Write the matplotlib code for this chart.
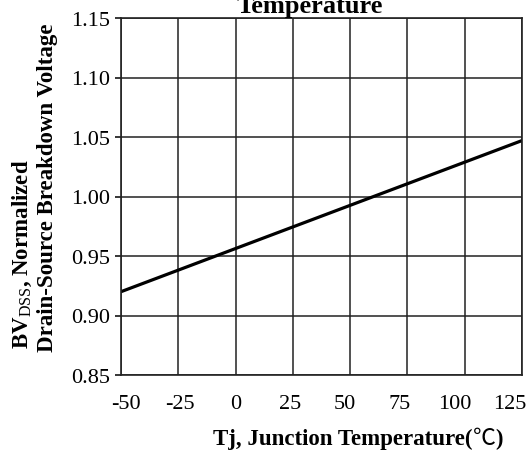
import matplotlib
matplotlib.use("Agg")
import matplotlib.pyplot as plt
import matplotlib.transforms as mtransforms
import numpy as np

# data
temps = [-50, 125]
bv_norm = [0.920, 1.047]

x_ticks = [-50, -25, 0, 25, 50, 75, 100, 125]
y_ticks = [0.85, 0.90, 0.95, 1.00, 1.05, 1.10, 1.15]

plt.rcParams['font.family'] = ['Liberation Serif', 'Noto Sans CJK SC']
plt.rcParams['mathtext.fontset'] = 'custom'
plt.rcParams['mathtext.rm'] = 'Liberation Serif'
plt.rcParams['mathtext.bf'] = 'Liberation Serif:bold'


def main():
    fig = plt.figure(figsize=(5.32, 4.52), dpi=100)
    ax = fig.add_axes([121 / 532, 1 - 376 / 452, 401 / 532, 357 / 452])

    ax.plot(temps, bv_norm, color='black', linewidth=2.3, solid_capstyle='round')

    ax.set_xlim(-50, 125)
    ax.set_ylim(0.85, 1.15)
    ax.set_xticks(x_ticks)
    ax.set_yticks(y_ticks)
    ax.set_xticklabels([str(t) for t in x_ticks])
    ax.set_yticklabels(['%.2f' % v for v in y_ticks])
    ax.grid(True, color='#222222', linewidth=1.1)
    for s in ax.spines.values():
        s.set_color('#222222')
        s.set_linewidth(1.2)

    ax.tick_params(axis='x', length=0, pad=14, labelsize=16)
    ax.tick_params(axis='y', length=4, width=1.1, pad=4, labelsize=16)

    # the datasheet spaces its x labels a bit tighter than the grid
    for i, lab in enumerate(ax.get_xticklabels()):
        dx = (4.5 - 2.4 * i) / 100
        lab.set_transform(lab.get_transform() +
                          mtransforms.ScaledTranslation(dx, 0, fig.dpi_scale_trans))

    # title partly cut off at the top like the datasheet crop
    fig.text(310 / 532, 1 - 13 / 452, 'Temperature', ha='center', va='baseline',
             fontsize=19, fontweight='bold')

    # x label: bold text, thin degree-C sign, bold closing paren
    t1 = fig.text(213 / 532, 1 - 450 / 452, 'Tj, Junction Temperature(',
                  ha='left', va='bottom', fontsize=16.5, fontweight='bold')
    t2 = ax.annotate('℃', xy=(1, 0), xycoords=t1, ha='left', va='bottom',
                     fontsize=16.5, family=['Noto Sans CJK SC'],
                     annotation_clip=False)
    ax.annotate(')', xy=(1, 0), xycoords=t2, ha='left', va='bottom',
                fontsize=16.5, fontweight='bold', annotation_clip=False)

    fig.text(22 / 532, 1 - 349 / 452, r'$\mathbf{BV}_{\mathrm{DSS}}$, Normalized',
             rotation=90, rotation_mode='anchor', ha='left', va='center',
             fontsize=16.5, fontweight='bold')
    fig.text(47 / 532, 1 - 352 / 452, 'Drain-Source Breakdown Voltage',
             rotation=90, rotation_mode='anchor', ha='left', va='center',
             fontsize=16.5, fontweight='bold')

    fig.savefig('out.png', dpi=100)


if __name__ == "__main__":
    main()
